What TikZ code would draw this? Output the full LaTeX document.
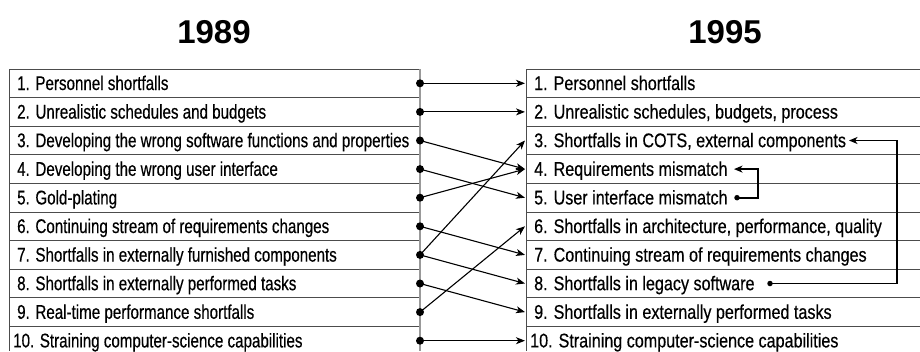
\documentclass[tikz,border=0pt]{standalone}
\usepackage{fontspec}
\setmainfont{Liberation Sans}
\newfontfamily\leftfont[FakeStretch=0.765,FakeBold=0.4]{Liberation Sans}
\newfontfamily\rightfont[FakeStretch=0.815,FakeBold=0.4]{Liberation Sans}
\usetikzlibrary{arrows.meta,calc}
\begin{document}
\begin{tikzpicture}[x=1pt,y=-1pt,
  rowline/.style={draw=black!70,line width=0.9pt},
  sideline/.style={draw=black!40,line width=1.2pt},
  ltext/.style={anchor=base west,inner sep=0pt,font=\leftfont\fontsize{19.8}{22}\selectfont},
  rtext/.style={anchor=base west,inner sep=0pt,font=\rightfont\fontsize{19.8}{22}\selectfont},
  head/.style={anchor=base,inner sep=0pt,font=\bfseries\fontsize{33}{38}\selectfont},
  dot/.style={circle,fill=black,inner sep=0pt,minimum size=8pt},
  smalldot/.style={circle,fill=black,inner sep=0pt,minimum size=5.5pt},
  conn/.style={draw=black,line width=1.1pt,-{Stealth[length=9pt,width=7pt,inset=2.5pt]}},
  loopconn/.style={draw=black,line width=1.8pt,-{Stealth[length=8.5pt,width=7pt,inset=2.5pt]}}]
\useasboundingbox (0,0) rectangle (920,351);
\fill[white] (0,0) rectangle (920,351);
% headings
\node[head] (h1) at (214,43) {1989};
\node[head] (h2) at (725,43) {1995};
% table lines
\foreach \i in {0,...,9}{
  \pgfmathsetmacro\t{69+28.6*\i}
  \draw[rowline] (9,\t) -- (420,\t);
  \draw[rowline] (526,\t) -- (920,\t);
}
\draw[rowline] (9,69) -- (9,351);
\draw[sideline] (420,69) -- (420,351);
\draw[rowline] (526,69) -- (526,351);
% texts
\foreach \i/\txt in {1/{1. Personnel shortfalls},2/{2. Unrealistic schedules and budgets},3/{3. Developing the wrong software functions and properties},4/{4. Developing the wrong user interface},5/{5. Gold-plating},6/{6. Continuing stream of requirements changes},7/{7. Shortfalls in externally furnished components},8/{8. Shortfalls in externally performed tasks},9/{9. Real-time performance shortfalls}}{
  \pgfmathsetmacro\b{69+28.6*(\i-1)+21}
  \node[ltext] (L\i) at (17,\b) {\txt};
}
\node[ltext] (L10) at (13,{69+28.6*9+21}) {10. Straining computer-science capabilities};
\foreach \i/\txt in {1/{1. Personnel shortfalls},2/{2. Unrealistic schedules, budgets, process},3/{3. Shortfalls in COTS, external components},4/{4. Requirements mismatch},5/{5. User interface mismatch},6/{6. Shortfalls in architecture, performance, quality},7/{7. Continuing stream of requirements changes},8/{8. Shortfalls in legacy software},9/{9. Shortfalls in externally performed tasks}}{
  \pgfmathsetmacro\b{69+28.6*(\i-1)+21}
  \node[rtext] (R\i) at (534,\b) {\txt};
}
\node[rtext] (R10) at (530,{69+28.6*9+21}) {10. Straining computer-science capabilities};
% dots and arrow ends
\foreach \i in {1,...,10}{
  \pgfmathsetmacro\c{69+28.6*(\i-0.5)}
  \node[dot] (dl\i) at (420,\c) {};
  \coordinate (ar\i) at (525,\c);
}
% connectors
\foreach \a/\b in {1/1,2/2,3/4,4/5,5/4,6/7,7/3,7/8,8/9,9/6,10/10}{
  \draw[conn] (dl\a.center) -- (ar\b);
}
% loops on the right
\node[smalldot] (d5) at (737,{69+28.6*4.5}) {};
\coordinate (t4) at (734,{69+28.6*3.5});
\node[smalldot] (d8) at (770,{69+28.6*7.5}) {};
\coordinate (t3) at (849,{69+28.6*2.5});
\draw[loopconn] (d5.center) -- (758,{69+28.6*4.5}) |- (t4);
\draw[loopconn] (d8.center) -- (897,{69+28.6*7.5}) |- (t3);
\end{tikzpicture}
\end{document}
